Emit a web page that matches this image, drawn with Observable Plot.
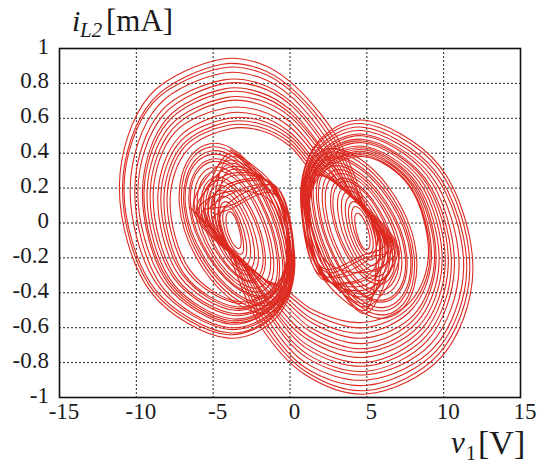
<!DOCTYPE html>
<html><head><meta charset="utf-8">
<script src="https://cdn.jsdelivr.net/npm/d3@7"></script>
<script src="https://cdn.jsdelivr.net/npm/@observablehq/plot@0.6"></script>
<style>body{margin:0;background:#fff} svg{display:block}</style>
</head><body><div id="chart"></div>
<script>
// Tick values and labels
const xTicks = [-15, -10, -5, 0, 5, 10, 15];
const xTickLabels = ["-15", "-10", "-5", "0", "5", "10", "15"];
const yTicks = [-1, -0.8, -0.6, -0.4, -0.2, 0, 0.2, 0.4, 0.6, 0.8, 1];
const yTickLabels = ["-1", "-0.8", "-0.6", "-0.4", "-0.2", "0", "0.2", "0.4", "0.6", "0.8", "1"];

// Left scroll inner turns (bottom, left, top, right) [v1 (V), iL2 (mA)]
const leftRings = [
  [[-3.50,-0.14],[-4.15,-0.01],[-3.80,0.06],[-3.20,-0.08]],
  [[-3.45,-0.17],[-4.35,0.00],[-3.85,0.085],[-3.05,-0.10]],
  [[-3.42,-0.20],[-4.55,0.02],[-3.90,0.11],[-2.85,-0.11]],
  [[-3.38,-0.23],[-4.85,0.03],[-3.95,0.14],[-2.60,-0.12]],
  [[-3.32,-0.26],[-5.10,0.04],[-4.00,0.17],[-2.35,-0.13]],
  [[-3.28,-0.28],[-5.30,0.05],[-4.05,0.20],[-2.10,-0.14]],
  [[-3.22,-0.31],[-5.60,0.06],[-4.05,0.225],[-1.80,-0.15]],
  [[-3.18,-0.32],[-5.75,0.06],[-4.05,0.245],[-1.65,-0.155]],
  [[-3.12,-0.35],[-6.00,0.07],[-4.00,0.28],[-1.30,-0.17]],
  [[-3.08,-0.37],[-6.20,0.08],[-4.00,0.30],[-1.10,-0.18]],
  [[-3.02,-0.39],[-6.45,0.09],[-3.95,0.33],[-0.85,-0.19]],
  [[-3.00,-0.40],[-6.55,0.09],[-3.95,0.345],[-0.72,-0.20]],
  [[-3.00,-0.43],[-6.80,0.10],[-3.90,0.37],[-0.50,-0.21]],
  [[-3.05,-0.44],[-6.90,0.10],[-3.90,0.39],[-0.38,-0.22]],
  [[-3.10,-0.46],[-7.05,0.11],[-3.90,0.41],[-0.20,-0.23]],
  [[-3.10,-0.48],[-7.20,0.11],[-3.85,0.43],[-0.05,-0.24]]
];

// Right scroll inner turns (bottom, left, top, right)
const rightRings = [
  [[4.84,-0.15],[4.24,-0.01],[4.54,0.05],[5.19,-0.08]],
  [[4.89,-0.17],[4.04,0.01],[4.49,0.085],[5.39,-0.09]],
  [[4.92,-0.20],[3.84,0.02],[4.44,0.11],[5.59,-0.11]],
  [[4.97,-0.23],[3.64,0.03],[4.39,0.14],[5.89,-0.12]],
  [[5.02,-0.26],[3.39,0.04],[4.34,0.17],[6.14,-0.13]],
  [[5.07,-0.29],[3.14,0.05],[4.29,0.19],[6.39,-0.14]],
  [[5.09,-0.31],[2.84,0.06],[4.24,0.22],[6.64,-0.15]],
  [[5.09,-0.33],[2.69,0.07],[4.19,0.235],[6.79,-0.155]],
  [[5.04,-0.37],[2.34,0.08],[4.14,0.26],[7.04,-0.16]],
  [[5.04,-0.39],[2.14,0.09],[4.09,0.28],[7.24,-0.17]],
  [[4.99,-0.42],[1.89,0.10],[4.04,0.30],[7.49,-0.18]],
  [[4.99,-0.43],[1.76,0.11],[4.04,0.315],[7.59,-0.18]],
  [[4.94,-0.46],[1.54,0.12],[4.04,0.34],[7.84,-0.19]],
  [[4.94,-0.48],[1.42,0.13],[4.09,0.35],[7.94,-0.19]],
  [[4.94,-0.50],[1.24,0.14],[4.14,0.37],[8.09,-0.20]],
  [[4.89,-0.52],[1.09,0.15],[4.14,0.39],[8.24,-0.20]]
];

// Left outer turns that swing over into the right scroll
const leftBigs = [
  [[-3.88,0.42],[-0.93,0.20],[0.30,-0.27],[-0.96,-0.55],[-4.0,-0.66],[-9.02,-0.40],[-11.1,0.22],[-9.14,0.73],[-4.4,0.94],[-2.0,0.915],[0,0.81],[3.0,0.50],[4.9,0.10],[5.6,-0.11]],
  [[-3.92,0.12],[-0.97,0.21],[0.25,-0.27],[-1.0,-0.53],[-4.0,-0.64],[-8.88,-0.39],[-10.9,0.21],[-8.99,0.70],[-4.4,0.91],[-2.0,0.885],[0,0.78],[2.9,0.48],[4.7,0.12],[5.7,-0.11]],
  [[-4.0,0.30],[-1.0,0.20],[0.20,-0.26],[-1.0,-0.52],[-3.9,-0.63],[-8.78,-0.38],[-10.8,0.21],[-8.9,0.69],[-4.3,0.89],[-2.0,0.865],[0,0.76],[2.8,0.46],[4.6,0.13],[5.8,-0.11]],
  [[-4.05,0.20],[-1.04,0.22],[0.15,-0.26],[-1.04,-0.51],[-3.9,-0.61],[-8.5,-0.37],[-10.4,0.20],[-8.61,0.67],[-4.3,0.86],[-2.0,0.835],[0,0.73],[2.7,0.44],[4.4,0.15],[5.9,-0.12]],
  [[-3.92,0.38],[-1.09,0.19],[0.10,-0.26],[-1.07,-0.50],[-3.9,-0.60],[-8.28,-0.37],[-10.1,0.20],[-8.4,0.64],[-4.3,0.82],[-2.0,0.80],[0,0.70],[2.6,0.42],[4.2,0.16],[6.0,-0.12]],
  [[-3.88,0.08],[-1.12,0.17],[0.05,-0.25],[-1.08,-0.48],[-3.8,-0.58],[-8.11,-0.35],[-9.9,0.19],[-8.23,0.62],[-4.2,0.80],[-2.0,0.78],[0,0.68],[2.5,0.41],[4.0,0.17],[6.15,-0.13]],
  [[-4.02,0.26],[-1.14,0.22],[0.0,-0.25],[-1.11,-0.48],[-3.8,-0.57],[-7.9,-0.35],[-9.6,0.19],[-8.0,0.60],[-4.2,0.77],[-2.0,0.75],[0,0.65],[2.4,0.39],[3.9,0.18],[6.25,-0.13]],
  [[-3.97,0.34],[-1.16,0.16],[0.0,-0.25],[-1.11,-0.47],[-3.8,-0.56],[-7.82,-0.34],[-9.5,0.18],[-7.94,0.58],[-4.2,0.75],[-2.0,0.73],[0,0.63],[2.4,0.38],[3.8,0.19],[6.35,-0.14]],
  [[-4.0,0.16],[-1.18,0.21],[-0.05,-0.24],[-1.12,-0.46],[-3.7,-0.55],[-7.66,-0.34],[-9.3,0.18],[-7.78,0.56],[-4.1,0.72],[-2.0,0.705],[0,0.61],[2.3,0.37],[3.7,0.19],[6.4,-0.14]],
  [[-3.9,0.40],[-1.24,0.14],[-0.10,-0.24],[-1.15,-0.45],[-3.7,-0.53],[-7.52,-0.32],[-9.1,0.17],[-7.64,0.54],[-4.1,0.70],[-2.0,0.68],[0,0.58],[2.2,0.35],[3.5,0.20],[6.5,-0.14]],
  [[-4.05,0.22],[-1.21,0.23],[-0.10,-0.24],[-1.13,-0.44],[-3.6,-0.52],[-7.35,-0.32],[-8.9,0.17],[-7.49,0.52],[-4.1,0.66],[-2.0,0.645],[0,0.55],[2.1,0.34],[3.4,0.21],[6.6,-0.15]],
  [[-3.9,0.10],[-1.26,0.19],[-0.15,-0.23],[-1.16,-0.42],[-3.6,-0.50],[-7.14,-0.31],[-8.6,0.16],[-7.25,0.49],[-4.0,0.63],[-2.0,0.615],[0,0.52],[2.0,0.32],[3.2,0.22],[6.7,-0.15]],
  [[-3.98,0.32],[-1.25,0.22],[-0.15,-0.23],[-1.13,-0.41],[-3.5,-0.49],[-6.96,-0.30],[-8.4,0.16],[-7.11,0.47],[-4.0,0.60],[-2.0,0.59],[0,0.50],[1.9,0.31],[3.0,0.23],[6.8,-0.155]],
  [[-4.02,0.18],[-1.31,0.13],[-0.20,-0.23],[-1.17,-0.41],[-3.5,-0.48],[-6.82,-0.30],[-8.2,0.15],[-6.97,0.45],[-4.0,0.58],[-2.0,0.57],[0,0.48],[1.8,0.30],[2.8,0.24],[6.9,-0.16]],
  [[-4.0,0.28],[-1.28,0.23],[-0.20,-0.22],[-1.14,-0.39],[-3.4,-0.46],[-6.65,-0.28],[-8.0,0.15],[-6.83,0.44],[-4.0,0.56],[-2.0,0.55],[0,0.46],[1.7,0.29],[2.6,0.25],[7.0,-0.16]],
  [[-3.95,0.36],[-1.33,0.19],[-0.25,-0.22],[-1.17,-0.38],[-3.4,-0.45],[-6.51,-0.27],[-7.8,0.14],[-6.66,0.42],[-3.9,0.54],[-1.9,0.53],[0,0.44],[1.6,0.28],[2.4,0.26],[7.1,-0.16]]
];

// Right outer turns that swing over into the left scroll
const rightBigs = [
  [[4.9,-0.50],[1.96,-0.29],[0.70,0.19],[1.87,0.47],[4.6,0.59],[9.71,0.33],[11.9,-0.28],[9.83,-0.77],[5.0,-0.98],[1.0,-0.87],[-2.0,-0.58],[-3.9,-0.19],[-4.6,0.02]],
  [[4.92,-0.22],[1.99,-0.30],[0.75,0.19],[1.9,0.46],[4.6,0.57],[9.57,0.32],[11.7,-0.27],[9.69,-0.75],[5.0,-0.96],[1.0,-0.85],[-1.9,-0.56],[-3.7,-0.20],[-4.6,0.02]],
  [[5.05,-0.40],[2.04,-0.29],[0.80,0.18],[1.94,0.44],[4.6,0.55],[9.43,0.30],[11.5,-0.27],[9.55,-0.73],[5.0,-0.93],[1.0,-0.83],[-1.8,-0.54],[-3.6,-0.21],[-4.7,0.02]],
  [[5.08,-0.30],[2.07,-0.32],[0.85,0.18],[1.99,0.43],[4.65,0.53],[9.31,0.29],[11.3,-0.26],[9.41,-0.71],[5.0,-0.90],[1.0,-0.80],[-1.7,-0.52],[-3.4,-0.23],[-4.9,0.03]],
  [[4.95,-0.46],[2.12,-0.28],[0.90,0.18],[2.03,0.41],[4.65,0.51],[9.1,0.28],[11.0,-0.26],[9.2,-0.69],[5.0,-0.87],[1.05,-0.77],[-1.6,-0.50],[-3.2,-0.24],[-5.0,0.03]],
  [[4.88,-0.18],[2.17,-0.26],[0.95,0.17],[2.08,0.40],[4.7,0.50],[8.9,0.275],[10.7,-0.25],[8.98,-0.67],[4.95,-0.85],[1.1,-0.75],[-1.5,-0.49],[-3.0,-0.25],[-5.1,0.04]],
  [[5.05,-0.35],[2.17,-0.31],[1.0,0.17],[2.11,0.39],[4.7,0.48],[8.76,0.26],[10.5,-0.25],[8.84,-0.65],[4.95,-0.82],[1.1,-0.72],[-1.4,-0.47],[-2.9,-0.26],[-5.3,0.05]],
  [[4.98,-0.44],[2.2,-0.25],[1.0,0.17],[2.11,0.38],[4.7,0.47],[8.62,0.26],[10.3,-0.24],[8.68,-0.63],[4.9,-0.80],[1.15,-0.70],[-1.35,-0.46],[-2.8,-0.27],[-5.4,0.05]],
  [[5.0,-0.26],[2.22,-0.30],[1.05,0.16],[2.16,0.37],[4.75,0.46],[8.5,0.25],[10.1,-0.24],[8.54,-0.61],[4.9,-0.77],[1.2,-0.67],[-1.3,-0.45],[-2.7,-0.27],[-5.5,0.05]],
  [[4.9,-0.52],[2.29,-0.23],[1.10,0.16],[2.2,0.36],[4.75,0.44],[8.36,0.24],[9.9,-0.23],[8.4,-0.59],[4.9,-0.74],[1.25,-0.65],[-1.2,-0.43],[-2.5,-0.28],[-5.6,0.06]],
  [[5.08,-0.32],[2.24,-0.32],[1.10,0.16],[2.21,0.35],[4.8,0.43],[8.23,0.23],[9.7,-0.23],[8.25,-0.57],[4.85,-0.72],[1.3,-0.62],[-1.1,-0.42],[-2.4,-0.29],[-5.75,0.06]],
  [[4.9,-0.20],[2.29,-0.28],[1.15,0.15],[2.25,0.34],[4.8,0.42],[8.09,0.23],[9.5,-0.22],[8.1,-0.55],[4.85,-0.69],[1.35,-0.60],[-1.0,-0.40],[-2.2,-0.30],[-5.9,0.07]],
  [[5.0,-0.42],[2.31,-0.31],[1.20,0.15],[2.28,0.33],[4.8,0.41],[8.02,0.22],[9.4,-0.22],[8.02,-0.53],[4.8,-0.66],[1.4,-0.57],[-0.9,-0.39],[-2.0,-0.30],[-6.0,0.07]],
  [[5.02,-0.28],[2.34,-0.22],[1.20,0.15],[2.3,0.33],[4.85,0.40],[7.9,0.22],[9.2,-0.21],[7.88,-0.50],[4.8,-0.63],[1.45,-0.55],[-0.8,-0.38],[-1.9,-0.31],[-6.1,0.07]],
  [[5.05,-0.38],[2.35,-0.32],[1.25,0.14],[2.33,0.32],[4.85,0.39],[7.83,0.21],[9.1,-0.21],[7.81,-0.48],[4.8,-0.60],[1.5,-0.52],[-0.7,-0.37],[-1.7,-0.32],[-6.3,0.08]],
  [[4.95,-0.48],[2.4,-0.28],[1.30,0.14],[2.38,0.31],[4.9,0.38],[7.77,0.21],[9.0,-0.20],[7.73,-0.46],[4.75,-0.57],[1.55,-0.50],[-0.6,-0.36],[-1.5,-0.33],[-6.5,0.09]]
];

function rows(loops) {
  const out = [];
  loops.forEach((pts, k) => pts.forEach(([x, y]) => out.push({x, y, k})));
  return out;
}

// The outer turns alternate: left big turn k, then right big turn k, then left big turn k+1 ...
const trajectory = [];
leftBigs.forEach((turn, k) => {
  turn.forEach(([x, y]) => trajectory.push({x, y}));
  rightBigs[k].forEach(([x, y]) => trajectory.push({x, y}));
});

const red = "#dc2a21";
const ink = "#1a1a1a";
const font = "Liberation Serif, Times New Roman, serif";

const ringOpts = {x: "x", y: "y", z: "k", curve: "cardinal-closed", tension: -0.62, stroke: red, strokeWidth: 1.1, clip: true};

const chart = Plot.plot({
  width: 539,
  height: 463,
  marginLeft: 59,
  marginRight: 19,
  marginTop: 48,
  marginBottom: 66,
  style: {background: "#fff", color: ink},
  x: {domain: [-15, 15], axis: null},
  y: {domain: [-1, 1], axis: null},
  marks: [
    Plot.gridX(xTicks, {stroke: "#222", strokeOpacity: 1, strokeWidth: 1, strokeDasharray: "2,2"}),
    Plot.gridY(yTicks, {stroke: "#222", strokeOpacity: 1, strokeWidth: 1, strokeDasharray: "2,2"}),
    Plot.line(rows(leftRings), ringOpts),
    Plot.line(rows(rightRings), ringOpts),
    Plot.line(trajectory, {x: "x", y: "y", curve: "catmull-rom", stroke: red, strokeWidth: 1.1, clip: true}),
    Plot.frame({stroke: "#111", strokeWidth: 1.6})
  ]
});

document.getElementById("chart").appendChild(chart);

const svg = d3.select(chart);
const sx = chart.scale("x");
const sy = chart.scale("y");
function label(x, y, size, italic, str, anchor) {
  svg.append("text")
    .attr("x", x).attr("y", y)
    .attr("text-anchor", anchor || "start")
    .style("font-family", font)
    .style("font-size", size + "px")
    .style("font-style", italic ? "italic" : "normal")
    .style("font-weight", "normal")
    .attr("fill", ink)
    .text(str);
}
// tick labels placed through Plot's own scales
xTicks.forEach((v, i) => label(sx.apply(v) + 5, 419, 23, false, xTickLabels[i], "middle"));
yTicks.forEach((v, i) => label(49, sy.apply(v) + 5.5, 23, false, yTickLabels[i], "end"));
// axis titles
label(72, 31, 30, true, "i");
label(80, 37, 21, true, "L2");
label(106, 31, 31, false, "[mA]");
label(451, 453, 31, true, "v");
label(466, 460, 20, false, "1");
label(478, 454, 34, false, "[V]");
</script>
</body></html>
